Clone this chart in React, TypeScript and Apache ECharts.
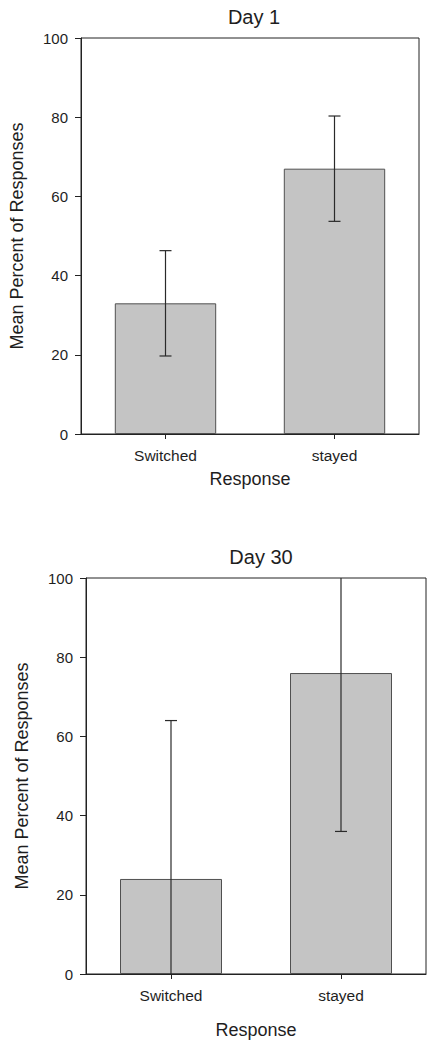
import React, { useEffect, useRef } from "react";
import * as echarts from "echarts";

const categories = ["Switched", "stayed"];
const day1Means = [33, 67];
const day1Errors = [13.3, 13.3];
const day30Means = [24, 76];
const day30Errors = [40, 40];
const yTicks = [0, 20, 40, 60, 80, 100];
const titles = ["Day 1", "Day 30"];
const xAxisName = "Response";
const yAxisName = "Mean Percent of Responses";

const FONT = "'Liberation Sans', Arial, Helvetica, sans-serif";
const TEXT = "#1e1e1e";
const AXIS = "#222222";

function errorData(means: number[], errs: number[]) {
  return means.map((m, i) => {
    const lo = m - errs[i];
    const hi = m + errs[i];
    return [i, Math.max(0, lo), Math.min(100, hi), lo >= 0 ? 1 : 0, hi <= 100 ? 1 : 0];
  });
}

export default function App() {
  const ref = useRef<HTMLDivElement>(null);
  useEffect(() => {
    if (!ref.current) return;
    const chart = echarts.init(ref.current, null, { renderer: "svg" });

    const grids = [
      { left: 79, top: 38, width: 340, height: 396 },
      { left: 86, top: 578, width: 340, height: 396 },
    ];
    const xNameGaps = [36, 47];

    const renderErr = (params: any, api: any) => {
      const x = api.value(0);
      const lo = api.coord([x, api.value(1)]);
      const hi = api.coord([x, api.value(2)]);
      const cap = 6;
      const style = { stroke: "#2a2a2a", lineWidth: 1.2 };
      const children: any[] = [
        { type: "line", shape: { x1: lo[0], y1: lo[1], x2: hi[0], y2: hi[1] }, style },
      ];
      if (api.value(3)) children.push({ type: "line", shape: { x1: lo[0] - cap, y1: lo[1], x2: lo[0] + cap, y2: lo[1] }, style });
      if (api.value(4)) children.push({ type: "line", shape: { x1: hi[0] - cap, y1: hi[1], x2: hi[0] + cap, y2: hi[1] }, style });
      return { type: "group", children };
    };

    const option: any = {
      animation: false,
      backgroundColor: "#ffffff",
      title: [
        {
          text: titles[0],
          left: 249,
          top: 2,
          textAlign: "center",
          textStyle: { fontFamily: FONT, fontSize: 20, fontWeight: "normal", color: TEXT },
        },
        {
          text: titles[1],
          left: 256,
          top: 542,
          textAlign: "center",
          textStyle: { fontFamily: FONT, fontSize: 20, fontWeight: "normal", color: TEXT },
        },
      ],
      grid: grids.map((g) => ({
        ...g,
        show: true,
        borderColor: AXIS,
        borderWidth: 1,
        backgroundColor: "transparent",
        containLabel: false,
      })),
      xAxis: grids.map((_, i) => ({
        type: "category",
        gridIndex: i,
        data: categories,
        name: xAxisName,
        nameLocation: "middle",
        nameGap: xNameGaps[i],
        nameTextStyle: { fontFamily: FONT, fontSize: 18, color: TEXT },
        axisLine: { show: true, lineStyle: { color: AXIS, width: 1 } },
        axisTick: { show: true, alignWithLabel: true, length: 5, lineStyle: { color: AXIS } },
        axisLabel: { fontFamily: FONT, fontSize: 15.5, color: TEXT, margin: 13 },
        splitLine: { show: false },
      })),
      yAxis: grids.map((_, i) => ({
        type: "value",
        gridIndex: i,
        min: yTicks[0],
        max: yTicks[yTicks.length - 1],
        interval: yTicks[1] - yTicks[0],
        name: yAxisName,
        nameLocation: "middle",
        nameGap: 55,
        nameRotate: 90,
        nameTextStyle: { fontFamily: FONT, fontSize: 18, color: TEXT },
        axisLine: { show: true, lineStyle: { color: AXIS, width: 1 } },
        axisTick: { show: true, length: 6, lineStyle: { color: AXIS } },
        axisLabel: { fontFamily: FONT, fontSize: 15, color: TEXT, margin: 13 },
        splitLine: { show: false },
      })),
      series: [
        {
          type: "bar",
          xAxisIndex: 0,
          yAxisIndex: 0,
          data: day1Means,
          barWidth: "60%",
          itemStyle: { color: "#c4c4c4", borderColor: "#505050", borderWidth: 1 },
        },
        {
          type: "custom",
          xAxisIndex: 0,
          yAxisIndex: 0,
          data: errorData(day1Means, day1Errors),
          renderItem: renderErr,
          z: 5,
        },
        {
          type: "bar",
          xAxisIndex: 1,
          yAxisIndex: 1,
          data: day30Means,
          barWidth: "60%",
          itemStyle: { color: "#c4c4c4", borderColor: "#505050", borderWidth: 1 },
        },
        {
          type: "custom",
          xAxisIndex: 1,
          yAxisIndex: 1,
          data: errorData(day30Means, day30Errors),
          renderItem: renderErr,
          z: 5,
        },
      ],
    };
    chart.setOption(option);
    return () => chart.dispose();
  }, []);

  return (
    <div
      ref={ref}
      style={{ position: "absolute", left: 0, top: 0, width: 434, height: 1050 }}
    />
  );
}
